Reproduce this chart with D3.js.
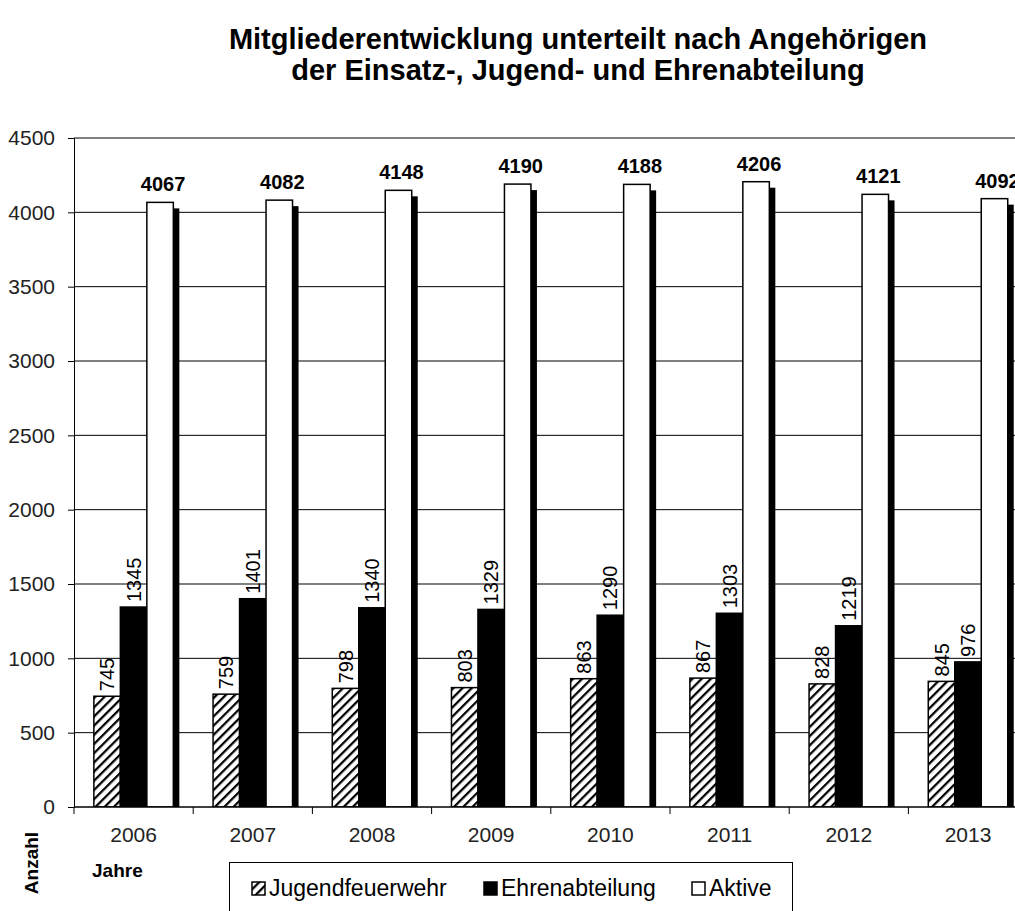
<!DOCTYPE html>
<html>
<head>
<meta charset="utf-8">
<script src="https://cdn.jsdelivr.net/npm/d3@7"></script>
<style>
  body { margin: 0; background: #fff; }
  text { font-family: "Liberation Sans", Arial, sans-serif; }
</style>
</head>
<body>
<svg class="d3svg" width="1015" height="911"></svg>
<script>
var years = ["2006", "2007", "2008", "2009", "2010", "2011", "2012", "2013"];
var jugend = [745, 759, 798, 803, 863, 867, 828, 845];
var ehren = [1345, 1401, 1340, 1329, 1290, 1303, 1219, 976];
var aktive = [4067, 4082, 4148, 4190, 4188, 4206, 4121, 4092];
var yTicks = [0, 500, 1000, 1500, 2000, 2500, 3000, 3500, 4000, 4500];
var seriesNames = ["Jugendfeuerwehr", "Ehrenabteilung", "Aktive"];

var svg = d3.select(".d3svg");

var plotLeft = 74, plotTop = 138, plotBottom = 807, catStep = 119.2;

var x = d3.scaleBand().domain(years).range([plotLeft, plotLeft + years.length * catStep]);
var xs = d3.scaleBand().domain(seriesNames).range([0, x.bandwidth()]).paddingOuter(0.75);
var y = d3.scaleLinear().domain([0, 4500]).range([plotBottom, plotTop]);

// hatch pattern
var defs = svg.append("defs");
var pat = defs.append("pattern")
    .attr("id", "hatch")
    .attr("patternUnits", "userSpaceOnUse")
    .attr("width", 6.5).attr("height", 6.5)
    .attr("patternTransform", "rotate(45)");
pat.append("rect").attr("width", 6.5).attr("height", 6.5).attr("fill", "#fff");
pat.append("line")
    .attr("x1", 0).attr("y1", 0).attr("x2", 0).attr("y2", 6.5)
    .attr("stroke", "#000").attr("stroke-width", 4.5);

defs.append("clipPath").attr("id", "plot")
    .append("rect").attr("x", plotLeft).attr("y", 0).attr("width", 1015).attr("height", plotBottom);

// title
var title = svg.append("text")
    .attr("text-anchor", "middle")
    .style("font-size", "29px").style("font-weight", "bold");
title.append("tspan").attr("x", 578).attr("y", 49).text("Mitgliederentwicklung unterteilt nach Angehörigen");
title.append("tspan").attr("x", 578).attr("y", 80).text("der Einsatz-, Jugend- und Ehrenabteilung");

// gridlines
svg.append("g").selectAll("line")
    .data(yTicks.slice(1))
    .enter().append("line")
    .attr("x1", plotLeft).attr("x2", 1015)
    .attr("y1", function(d) { return y(d); })
    .attr("y2", function(d) { return y(d); })
    .attr("stroke", "#000").attr("stroke-width", 1);

// y axis
var yAxis = svg.append("g")
    .attr("transform", "translate(" + plotLeft + ",0)")
    .call(d3.axisLeft(y).tickValues(yTicks).tickSize(6).tickPadding(13).tickFormat(d3.format("d")));
yAxis.select(".domain").attr("stroke", "#000");
yAxis.selectAll("line").attr("stroke", "#000");
yAxis.selectAll("text").style("font-size", "21px").attr("fill", "#222")
    .style("font-family", "'Liberation Sans', Arial, sans-serif");

// bars
var rows = years.map(function(yr, i) {
    return [
        {year: yr, s: seriesNames[0], v: jugend[i]},
        {year: yr, s: seriesNames[1], v: ehren[i]},
        {year: yr, s: seriesNames[2], v: aktive[i]}
    ];
});
var fills = {"Jugendfeuerwehr": "url(#hatch)", "Ehrenabteilung": "#000", "Aktive": "#fff"};

var barsG = svg.append("g").attr("clip-path", "url(#plot)");
seriesNames.forEach(function(s, si) {
    var data = rows.map(function(r) { return r[si]; });
    // drop shadow
    barsG.append("g").selectAll("rect")
        .data(data).enter().append("rect")
        .attr("x", function(d) { return x(d.year) + xs(d.s) + 6; })
        .attr("y", function(d) { return y(d.v) + 6; })
        .attr("width", xs.bandwidth())
        .attr("height", function(d) { return plotBottom - y(d.v); })
        .attr("fill", "#000");
    barsG.append("g").selectAll("rect")
        .data(data).enter().append("rect")
        .attr("x", function(d) { return x(d.year) + xs(d.s); })
        .attr("y", function(d) { return y(d.v); })
        .attr("width", xs.bandwidth())
        .attr("height", function(d) { return plotBottom - y(d.v); })
        .attr("fill", fills[s])
        .attr("stroke", "#000").attr("stroke-width", 1.5);
});

// x axis line and ticks
svg.append("line")
    .attr("x1", plotLeft).attr("x2", 1015).attr("y1", plotBottom).attr("y2", plotBottom)
    .attr("stroke", "#000").attr("stroke-width", 1.5);
svg.append("g").selectAll("line")
    .data(years.concat(["end"]))
    .enter().append("line")
    .attr("x1", function(d, i) { return plotLeft + i * x.step(); })
    .attr("x2", function(d, i) { return plotLeft + i * x.step(); })
    .attr("y1", plotBottom).attr("y2", plotBottom + 7)
    .attr("stroke", "#000");
svg.append("g").selectAll("text")
    .data(years).enter().append("text")
    .attr("x", function(d) { return x(d) + x.bandwidth() / 2; })
    .attr("y", 842)
    .attr("text-anchor", "middle")
    .attr("fill", "#222")
    .style("font-size", "21px")
    .text(function(d) { return d; });

// value labels
var labels = svg.append("g");
rows.forEach(function(r) {
    [r[0], r[1]].forEach(function(d) {
        var cx = x(d.year) + xs(d.s) + xs.bandwidth() / 2 + 7;
        var cy = y(d.v) - 5;
        labels.append("text")
            .attr("transform", "translate(" + cx + "," + cy + ") rotate(-90)")
            .style("font-size", "20px")
            .text(d.v);
    });
    var a = r[2];
    labels.append("text")
        .attr("x", x(a.year) + xs(a.s) + xs.bandwidth() / 2 + 3)
        .attr("y", y(a.v) - 11)
        .attr("text-anchor", "middle")
        .style("font-size", "20px").style("font-weight", "bold")
        .text(a.v);
});

// axis titles
svg.append("text")
    .attr("transform", "translate(38,863) rotate(-90)")
    .attr("text-anchor", "middle")
    .style("font-size", "19px").style("font-weight", "bold")
    .text("Anzahl");
svg.append("text")
    .attr("x", 92).attr("y", 877)
    .style("font-size", "19px").style("font-weight", "bold")
    .text("Jahre");

// legend
var lg = svg.append("g");
lg.append("rect")
    .attr("x", 229.5).attr("y", 862.5).attr("width", 563).attr("height", 60)
    .attr("fill", "#fff").attr("stroke", "#000");
var legX = [252, 484, 692];
seriesNames.forEach(function(s, i) {
    lg.append("rect")
        .attr("x", legX[i]).attr("y", 882).attr("width", 13).attr("height", 13)
        .attr("fill", fills[s]).attr("stroke", "#000").attr("stroke-width", 1.5);
    lg.append("text")
        .attr("x", legX[i] + 17).attr("y", 896)
        .style("font-size", "23px")
        .text(s);
});
</script>
</body>
</html>
